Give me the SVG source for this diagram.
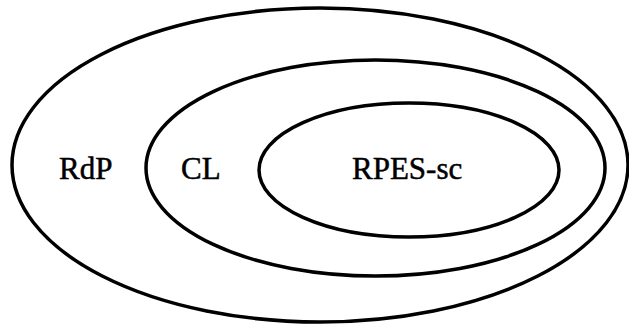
<svg xmlns="http://www.w3.org/2000/svg" width="629" height="327" viewBox="0 0 629 327">
<style>
.e{fill:none;stroke:#000;stroke-width:3.5}
.t{font-family:"Liberation Serif","Times New Roman",serif;font-size:31px;fill:#000;stroke:#000;stroke-width:0.5}
</style>
<rect width="629" height="327" fill="#fff"/>
<g id="RdP">
<ellipse class="e" cx="320" cy="165" rx="308" ry="157"/>
<text class="t" x="59" y="179">RdP</text>
</g>
<g id="CL">
<ellipse class="e" cx="375.5" cy="168" rx="229.5" ry="108"/>
<text class="t" x="181" y="179">CL</text>
</g>
<g id="RPES-sc">
<ellipse class="e" cx="409" cy="170" rx="150" ry="67"/>
<text class="t" x="352" y="179">RPES-sc</text>
</g>
<g id="connectors"/>
</svg>
